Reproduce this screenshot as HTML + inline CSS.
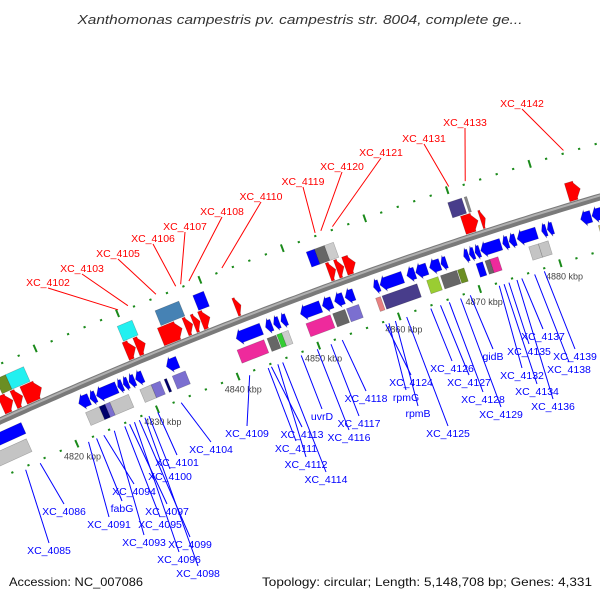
<!DOCTYPE html>
<html><head><meta charset="utf-8">
<style>
html,body{margin:0;padding:0;background:#fff;}
svg{display:block;font-family:"Liberation Sans","DejaVu Sans",sans-serif;}
</style></head>
<body>
<svg id="chart" width="600" height="600" viewBox="0 0 600 600">
<text x="300" y="24" text-anchor="middle" font-size="13" font-style="italic" fill="#333" textLength="445" lengthAdjust="spacingAndGlyphs">Xanthomonas campestris pv. campestris str. 8004, complete ge...</text>
<g id="dots"></g>
<g id="backbone"></g>
<g id="feats"></g>
<g id="leaders"></g>
<g id="labels"></g>
<text x="9" y="586" font-size="12" fill="#111" textLength="134" lengthAdjust="spacingAndGlyphs">Accession: NC_007086</text>
<text x="592" y="586" font-size="12" fill="#111" text-anchor="end" textLength="330" lengthAdjust="spacingAndGlyphs">Topology: circular; Length: 5,148,708 bp; Genes: 4,331</text>
</svg>
<script>
// ---- data (kbp positions) ----
const tickKbp = [4820, 4830, 4840, 4850, 4860, 4870, 4880];
const redNames = ["XC_4102","XC_4103","XC_4105","XC_4106","XC_4107","XC_4108","XC_4110","XC_4119","XC_4120","XC_4121","XC_4131","XC_4133","XC_4142"];
const redKbp = [4830.2,4831.4,4834.8,4837.2,4837.8,4838.8,4842.8,4854.1,4854.8,4856.2,4870.3,4872.3,4884.2];
const blueNames = ["XC_4085","XC_4086","XC_4091","fabG","XC_4094","XC_4093","XC_4095","XC_4097","XC_4096","XC_4099","XC_4098","XC_4100","XC_4101","XC_4104","XC_4109","XC_4111","XC_4113","XC_4112","XC_4114","uvrD","XC_4116","XC_4117","XC_4118","XC_4124","rpmG","rpmB","XC_4125","XC_4126","XC_4127","XC_4128","XC_4129","gidB","XC_4132","XC_4134","XC_4135","XC_4136","XC_4137","XC_4138","XC_4139"];
const blueKbp = [4813.5,4815.3,4821.3,4822.3,4823.2,4824.5,4825.8,4826.4,4827.0,4827.6,4828.3,4828.8,4829.9,4832.8,4841.3,4843.6,4844.0,4844.8,4845.4,4847.7,4849.7,4851.4,4852.8,4858.2,4858.6,4859.4,4860.8,4863.8,4865.0,4866.1,4867.5,4868.7,4872.3,4872.9,4873.5,4874.5,4875.1,4876.7,4877.9];
// gene features
const featStart = [4814.0,4815.5,4816.7,4829.2,4830.5,4833.5,4836.5,4837.5,4838.4,4842.6,4854.0,4855.0,4856.0,4870.5,4872.6,4883.2,
 4812.4,4814.6,4815.8,4829.4,4834.0,4838.6,4852.4,4853.4,4854.6,4869.6,4871.6,
 4811.0,4822.0,4823.4,4824.2,4826.8,4827.5,4828.2,4829.0,4832.8,4841.4,4845.0,4846.0,4846.9,4849.3,4852.0,4853.5,4854.8,4858.3,4859.1,4862.4,4863.5,4865.2,4866.6,4869.4,4870.1,4870.8,4871.5,4874.2,4875.0,4876.0,4879.0,4879.7,4883.8,4885.2,
 4811.0,4822.3,4824.0,4824.7,4825.3,4829.0,4830.4,4832.0,4833.0,4841.0,4844.7,4845.9,4846.5,4849.5,4852.8,4854.5,4858.1,4858.9,4864.4,4866.1,4868.2,4870.5,4871.6,4872.2,4877.0,4878.2,4885.6];
const featEnd = [4815.4,4816.6,4818.9,4830.4,4831.6,4836.1,4837.4,4838.3,4839.5,4843.3,4854.9,4855.9,4857.3,4872.3,4873.2,4884.8,
 4813.8,4815.8,4818.0,4831.2,4836.9,4839.9,4853.4,4854.6,4855.7,4871.3,4871.9,
 4815.2,4823.3,4824.1,4826.7,4827.4,4828.1,4828.9,4829.9,4834.2,4844.5,4845.8,4846.7,4847.6,4851.8,4853.2,4854.6,4855.9,4859.0,4861.9,4863.4,4864.9,4866.5,4867.3,4870.0,4870.7,4871.4,4874.0,4874.9,4875.8,4878.4,4879.6,4880.4,4885.1,4886.6,
 4815.0,4824.0,4824.7,4825.3,4827.6,4830.4,4831.5,4832.3,4834.6,4844.3,4845.8,4846.5,4847.3,4852.5,4854.3,4856.0,4858.7,4863.2,4865.8,4868.1,4869.0,4871.3,4872.2,4873.2,4878.2,4879.4,4887.6];
const featStrand = [1,1,1,1,1,1,1,1,1,1,1,1,1,1,1,1,
 1,1,1,1,1,1,1,1,1,1,1,
 -1,-1,-1,-1,-1,-1,-1,-1,-1,-1,-1,-1,-1,-1,-1,-1,-1,-1,-1,-1,-1,-1,-1,-1,-1,-1,-1,-1,-1,-1,-1,-1,-1,-1,
 -1,-1,-1,-1,-1,-1,-1,-1,-1,-1,-1,-1,-1,-1,-1,-1,-1,-1,-1,-1,-1,-1,-1,-1,-1,-1,-1];
const featKind = ["a","a","a","a","a","a","a","a","a","a","a","a","a","a","a","a",
 "b","b","b","b","b","b","b","b","b","b","b",
 "a","a","a","a","a","a","a","a","a","a","a","a","a","a","a","a","a","a","a","a","a","a","a","a","a","a","a","a","a","a","a","a","a","a",
 "b","b","b","b","b","b","b","b","b","b","b","b","b","b","b","b","b","b","b","b","b","b","b","b","b","b","b"];
const featColor = ["#f00","#f00","#f00","#f00","#f00","#f00","#f00","#f00","#f00","#f00","#f00","#f00","#f00","#f00","#f00","#f00",
 "#00006b","#6b8e23","#22f0f0","#22f0f0","#4682b4","#0000ff","#0000ff","#666","#ccc","#483d8b","#888",
 "#00f","#00f","#00f","#00f","#00f","#00f","#00f","#00f","#00f","#00f","#00f","#00f","#00f","#00f","#00f","#00f","#00f","#00f","#00f","#00f","#00f","#00f","#00f","#00f","#00f","#00f","#00f","#00f","#00f","#00f","#00f","#00f","#00f","#00f",
 "#c4c4c4","#c4c4c4","#00006b","#7b6fd0","#c4c4c4","#c4c4c4","#7b6fd0","#00006b","#7b6fd0","#ee2a9c","#666","#33cc33","#ccc","#ee2a9c","#666","#7b6fd0","#e88080","#483d8b","#9acd32","#666","#6b8e23","#0000ff","#666","#ee2a9c","#c4c4c4","#c4c4c4","#bdb76b"];
// ---- label layout (pixel positions, not data) ----
const redLabelX = [48,82,118,153,185,222,261,303,342,381,424,465,522];
const redLabelY = [282,268,253,238,226,211,196,181,166,152,138,122,103];
const blueLabelX = [49,64,109,122,134,144,160,167,179,190,198,170,177,211,247,296,302,306,326,322,349,359,366,411,406,418,448,452,469,483,501,493,522,537,529,553,543,569,575];
const blueLabelY = [550,511,524,508,491,542,524,511,559,544,573,476,462,449,433,448,434,464,479,416,437,423,398,382,397,413,433,368,382,399,414,356,375,391,351,406,336,369,356];

// ---- geometry ----
const NS = "http://www.w3.org/2000/svg";
function xb(k){ return 56 + 8.15*(k-4820); }
function yAt(x){ return 421 - 0.413*x + 1.32e-4*x*(x-300); }
function slope(x){ return -0.413 + 1.32e-4*(2*x-300); }
function P(k, o){
  const x = xb(k), y = yAt(x), s = slope(x), L = Math.sqrt(1+s*s);
  return [x + o*(-s)/L, y + o/L];
}
function mk(tag, attrs, parent){
  const e = document.createElementNS(NS, tag);
  for (const a in attrs) e.setAttribute(a, attrs[a]);
  parent.appendChild(e); return e;
}
const gDots = document.getElementById('dots');
const gBack = document.getElementById('backbone');
const gFeat = document.getElementById('feats');
const gLead = document.getElementById('leaders');
const gLab = document.getElementById('labels');

// dotted rows
[-52, 52].forEach(o => {
  for (let k = 4806; k <= 4894; k += 2) {
    const major = (k % 10 === 0);
    const a = P(k, o - (major ? 4 : 1)), b = P(k, o + (major ? 4 : 1));
    const l = mk('line', {x1:a[0], y1:a[1], x2:b[0], y2:b[1], stroke:'#1a8a1a', 'stroke-width': major ? 2 : 2.2}, gDots);
    
    
  }
});
// tick labels
tickKbp.forEach(k => {
  const p = P(k, 66);
  const t = mk('text', {x:p[0], y:p[1]+3, 'text-anchor':'middle', 'font-size':9, fill:'#444'}, gDots);
  t.textContent = k + ' kbp';
  
  
});
// backbone
(function(){
  let d = '';
  for (let x = -5; x <= 605; x += 5) d += (x === -5 ? 'M' : 'L') + x + ',' + yAt(x).toFixed(1);
  const p1 = mk('path', {d:d, fill:'none', stroke:'#7a7a7a', 'stroke-width':7}, gBack);
  
  
  const p2 = mk('path', {d:d, fill:'none', stroke:'#b0b0b0', 'stroke-width':2, transform:'translate(0,-1.5)'}, gBack);
  
  
})();
// features
const offs = {"1a":[-6,-21], "1b":[-24,-40], "-1a":[8,24], "-1b":[27,41]};
for (let i = 0; i < featStart.length; i++) {
  const k1 = featStart[i], k2 = featEnd[i], s = featStrand[i], kind = featKind[i];
  const o = offs[s + kind]; const o1 = o[0], o2 = o[1], om = (o1+o2)/2;
  let pts;
  if (kind === 'a') {
    const h = Math.min(0.6, (k2-k1)*0.6);
    if (s > 0) pts = [P(k1,o1+2), P(k2-h,o1+2), P(k2-h,o1), P(k2,om), P(k2-h,o2), P(k2-h,o2-2), P(k1,o2-2)];
    else pts = [P(k2,o1+2), P(k1+h,o1+2), P(k1+h,o1), P(k1,om), P(k1+h,o2), P(k1+h,o2-2), P(k2,o2-2)];
  } else {
    pts = [P(k1,o1), P(k2,o1), P(k2,o2), P(k1,o2)];
  }
  const poly = mk('polygon', {points: pts.map(p => p[0].toFixed(1)+','+p[1].toFixed(1)).join(' '), fill: featColor[i], stroke: 'rgba(0,0,0,0.25)', 'stroke-width': 0.6}, gFeat);
  
  
}
// red labels
for (let i = 0; i < redNames.length; i++) {
  const a = P(redKbp[i], -55);
  const l = mk('line', {x1:redLabelX[i], y1:redLabelY[i]+6, x2:a[0], y2:a[1], stroke:'#f00', 'stroke-width':1}, gLead);
  
  
  const t = mk('text', {x:redLabelX[i], y:redLabelY[i]+4, 'text-anchor':'middle', 'font-size':10.5, fill:'#f00'}, gLab);
  t.textContent = redNames[i];
  
  
}
// blue labels
for (let i = 0; i < blueNames.length; i++) {
  const a = P(blueKbp[i], 55);
  const l = mk('line', {x1:a[0], y1:a[1], x2:blueLabelX[i], y2:blueLabelY[i]-7, stroke:'#00f', 'stroke-width':1}, gLead);
  
  
  const t = mk('text', {x:blueLabelX[i], y:blueLabelY[i]+4, 'text-anchor':'middle', 'font-size':10.5, fill:'#00f'}, gLab);
  t.textContent = blueNames[i];
  
  
}
</script>
</body></html>
